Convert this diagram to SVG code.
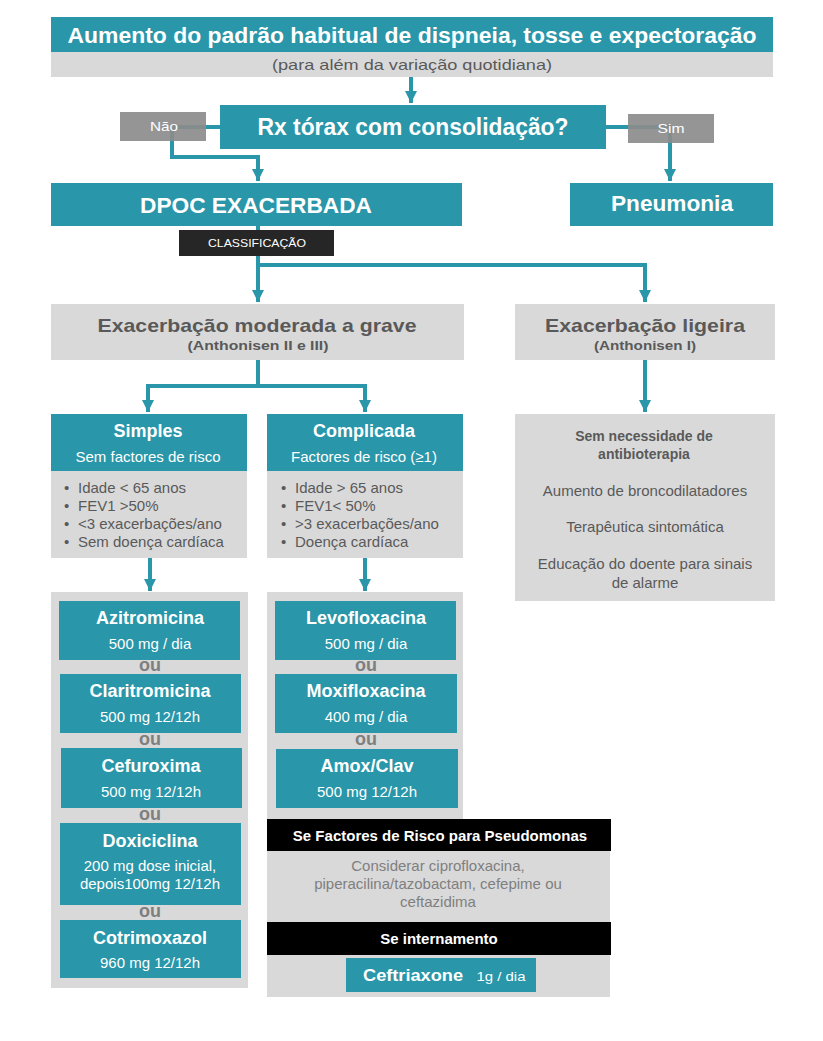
<svg xmlns="http://www.w3.org/2000/svg" width="823" height="1041" viewBox="0 0 823 1041">
<defs>
<marker id="ah" markerUnits="userSpaceOnUse" markerWidth="14" markerHeight="12" refX="12" refY="6" orient="auto">
<path d="M0,0 L12,6 L0,12 Z" fill="#2996a9"/>
</marker>
<style>
text{font-family:"Liberation Sans",Arial,sans-serif;text-anchor:middle}
.teal{fill:#2996a9}
.gray{fill:#d9d9d9}
.dark{fill:#262626}
.black{fill:#000}
.tag{fill:#8c8c8c;opacity:0.92}
.conn{fill:none;stroke:#2996a9;stroke-width:4;stroke-linejoin:miter}
.w{fill:#fff}
.b{font-weight:bold}
.g{fill:#595959}
.ou{fill:#7f7f7f;font-weight:bold;font-size:18px}
.h18{font-size:18px;font-weight:bold;fill:#fff}
.s15{font-size:15px;fill:#fff}
.l15{font-size:15px;fill:#595959;text-anchor:start}
</style>
</defs>
<rect width="823" height="1041" fill="#fff"/>

<g id="connectors">
<path class="conn" d="M411,77 V103" marker-end="url(#ah)"/>
<path class="conn" d="M220,127 H172 V157 H258 V181" marker-end="url(#ah)"/>
<path class="conn" d="M606,127 H670 V181" marker-end="url(#ah)"/>
<path class="conn" d="M258,226 V302" marker-end="url(#ah)"/>
<path class="conn" d="M258,265 H645 V302" marker-end="url(#ah)"/>
<path class="conn" d="M258,360 V386 H148 V412" marker-end="url(#ah)"/>
<path class="conn" d="M258,386 H365 V412" marker-end="url(#ah)"/>
<path class="conn" d="M645,360 V412" marker-end="url(#ah)"/>
<path class="conn" d="M150,558 V591" marker-end="url(#ah)"/>
<path class="conn" d="M365,558 V591" marker-end="url(#ah)"/>
</g>

<g id="start">
<rect class="teal" x="51" y="17" width="722" height="35"/>
<rect class="gray" x="51" y="52" width="722" height="25"/>
<text class="w b" x="412" y="43" font-size="22" textLength="689" lengthAdjust="spacingAndGlyphs">Aumento do padrão habitual de dispneia, tosse e expectoração</text>
<text class="g" x="412" y="70" font-size="15" textLength="280" lengthAdjust="spacingAndGlyphs">(para além da variação quotidiana)</text>
</g>

<g id="rx">
<rect class="teal" x="220" y="105" width="386" height="44"/>
<text class="w b" x="413" y="135" font-size="23" textLength="311" lengthAdjust="spacingAndGlyphs">Rx tórax com consolidação?</text>
</g>

<g id="nao">
<rect class="tag" x="120" y="112" width="86" height="29"/>
<text class="w" x="164" y="131" font-size="13" textLength="28" lengthAdjust="spacingAndGlyphs">Não</text>
</g>

<g id="sim">
<rect class="tag" x="628" y="114" width="86" height="29"/>
<text class="w" x="671" y="133" font-size="13" textLength="27" lengthAdjust="spacingAndGlyphs">Sim</text>
</g>

<g id="dpoc">
<rect class="teal" x="51" y="183" width="411" height="43"/>
<text class="w b" x="256" y="213" font-size="22" textLength="232" lengthAdjust="spacingAndGlyphs">DPOC EXACERBADA</text>
</g>

<g id="pneumonia">
<rect class="teal" x="570" y="183" width="203" height="43"/>
<text class="w b" x="672" y="211" font-size="22" textLength="122" lengthAdjust="spacingAndGlyphs">Pneumonia</text>
</g>

<g id="classificacao">
<rect class="dark" x="179" y="230" width="155" height="26"/>
<text class="w" x="257" y="247" font-size="11" textLength="98" lengthAdjust="spacingAndGlyphs">CLASSIFICAÇÃO</text>
</g>

<g id="moderada">
<rect class="gray" x="51" y="304" width="413" height="56"/>
<text class="g b" x="257" y="332" font-size="19" textLength="319" lengthAdjust="spacingAndGlyphs">Exacerbação moderada a grave</text>
<text class="g b" x="258" y="350" font-size="12" textLength="141" lengthAdjust="spacingAndGlyphs">(Anthonisen II e III)</text>
</g>

<g id="ligeira">
<rect class="gray" x="515" y="304" width="260" height="56"/>
<text class="g b" x="645" y="332" font-size="19" textLength="200" lengthAdjust="spacingAndGlyphs">Exacerbação ligeira</text>
<text class="g b" x="645" y="350" font-size="12" textLength="102" lengthAdjust="spacingAndGlyphs">(Anthonisen I)</text>
</g>

<g id="simples">
<rect class="teal" x="51" y="414" width="196" height="57"/>
<rect class="gray" x="51" y="471" width="196" height="87"/>
<text class="h18" x="148" y="437">Simples</text>
<text class="s15" x="148" y="462">Sem factores de risco</text>
<text class="l15" y="493"><tspan x="64">•</tspan><tspan x="78">Idade &lt; 65 anos</tspan></text>
<text class="l15" y="511"><tspan x="64">•</tspan><tspan x="78">FEV1 &gt;50%</tspan></text>
<text class="l15" y="529"><tspan x="64">•</tspan><tspan x="78">&lt;3 exacerbações/ano</tspan></text>
<text class="l15" y="547"><tspan x="64">•</tspan><tspan x="78">Sem doença cardíaca</tspan></text>
</g>

<g id="complicada">
<rect class="teal" x="267" y="414" width="196" height="57"/>
<rect class="gray" x="267" y="471" width="196" height="87"/>
<text class="h18" x="364" y="437">Complicada</text>
<text class="s15" x="364" y="462">Factores de risco (≥1)</text>
<text class="l15" y="493"><tspan x="281">•</tspan><tspan x="295">Idade &gt; 65 anos</tspan></text>
<text class="l15" y="511"><tspan x="281">•</tspan><tspan x="295">FEV1&lt; 50%</tspan></text>
<text class="l15" y="529"><tspan x="281">•</tspan><tspan x="295">&gt;3 exacerbações/ano</tspan></text>
<text class="l15" y="547"><tspan x="281">•</tspan><tspan x="295">Doença cardíaca</tspan></text>
</g>

<g id="ligeira-tratamento">
<rect class="gray" x="515" y="414" width="260" height="187"/>
<text class="g b" x="644" y="441" font-size="14">Sem necessidade de</text>
<text class="g b" x="644" y="459" font-size="14">antibioterapia</text>
<text class="g" x="645" y="496" font-size="15">Aumento de broncodilatadores</text>
<text class="g" x="645" y="532" font-size="15">Terapêutica sintomática</text>
<text class="g" x="645" y="569" font-size="15">Educação do doente para sinais</text>
<text class="g" x="645" y="588" font-size="15">de alarme</text>
</g>

<g id="simples-tratamento">
<rect class="gray" x="51" y="592" width="197" height="396"/>
<rect class="teal" x="59" y="601" width="181" height="59"/>
<text class="h18" x="150" y="624">Azitromicina</text>
<text class="s15" x="150" y="649">500 mg / dia</text>
<text class="ou" x="150" y="671">ou</text>
<rect class="teal" x="60" y="674" width="181" height="59"/>
<text class="h18" x="150" y="697">Claritromicina</text>
<text class="s15" x="150" y="722">500 mg 12/12h</text>
<text class="ou" x="150" y="745">ou</text>
<rect class="teal" x="61" y="748" width="181" height="60"/>
<text class="h18" x="151" y="772">Cefuroxima</text>
<text class="s15" x="151" y="797">500 mg 12/12h</text>
<text class="ou" x="150" y="820">ou</text>
<rect class="teal" x="60" y="823" width="181" height="82"/>
<text class="h18" x="150" y="847">Doxiciclina</text>
<text class="s15" x="150" y="871">200 mg dose inicial,</text>
<text class="s15" x="150" y="889">depois100mg 12/12h</text>
<text class="ou" x="150" y="917">ou</text>
<rect class="teal" x="60" y="920" width="181" height="58"/>
<text class="h18" x="150" y="944">Cotrimoxazol</text>
<text class="s15" x="150" y="968">960 mg 12/12h</text>
</g>

<g id="complicada-tratamento">
<path class="gray" d="M267,592 H463 V820 H610 V997 H267 Z"/>
<rect class="teal" x="275" y="601" width="181" height="59"/>
<text class="h18" x="366" y="624">Levofloxacina</text>
<text class="s15" x="366" y="649">500 mg / dia</text>
<text class="ou" x="366" y="671">ou</text>
<rect class="teal" x="275" y="674" width="182" height="59"/>
<text class="h18" x="366" y="697">Moxifloxacina</text>
<text class="s15" x="366" y="722">400 mg / dia</text>
<text class="ou" x="366" y="745">ou</text>
<rect class="teal" x="276" y="749" width="182" height="59"/>
<text class="h18" x="367" y="772">Amox/Clav</text>
<text class="s15" x="367" y="797">500 mg 12/12h</text>
</g>

<g id="pseudomonas">
<rect class="black" x="267" y="819" width="344" height="32"/>
<text class="w b" x="440" y="841" font-size="15">Se Factores de Risco para Pseudomonas</text>
<text x="438" y="871" font-size="15" fill="#7f7f7f">Considerar ciprofloxacina,</text>
<text x="438" y="889" font-size="15" fill="#7f7f7f">piperacilina/tazobactam, cefepime ou</text>
<text x="438" y="907" font-size="15" fill="#7f7f7f">ceftazidima</text>
</g>

<g id="internamento">
<rect class="black" x="267" y="922" width="344" height="33"/>
<text class="w b" x="439" y="944" font-size="15">Se internamento</text>
<rect class="teal" x="346" y="958" width="190" height="34"/>
<text class="w b" x="413" y="981" font-size="17" textLength="100" lengthAdjust="spacingAndGlyphs">Ceftriaxone</text>
<text class="w" x="501" y="981" font-size="13" textLength="49" lengthAdjust="spacingAndGlyphs">1g / dia</text>
</g>
</svg>
